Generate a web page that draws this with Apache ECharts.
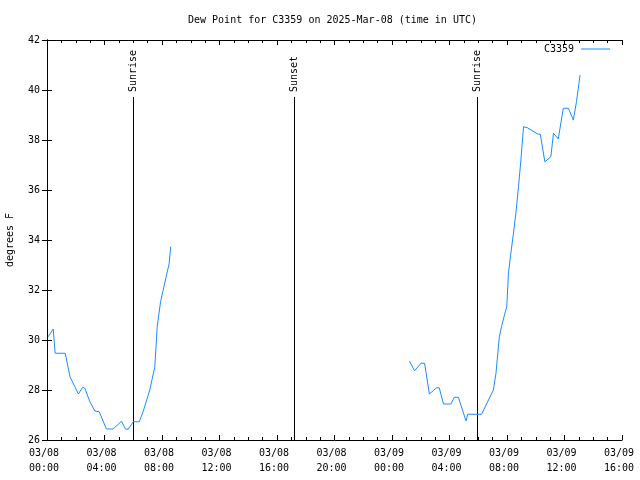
<!DOCTYPE html>
<html>
<head>
<meta charset="utf-8">
<script src="https://cdn.jsdelivr.net/npm/echarts@6/dist/echarts.min.js"></script>
<style>html,body{margin:0;padding:0;background:#fff}#c{width:640px;height:480px}</style>
</head>
<body>
<div id="c"></div>
<script>
// Data (times in UTC)
var seg1Times = ["03/08 00:05","03/08 00:26","03/08 00:34","03/08 01:16","03/08 01:36","03/08 02:11","03/08 02:29","03/08 02:38","03/08 02:59","03/08 03:20","03/08 03:38","03/08 04:08","03/08 04:36","03/08 05:11","03/08 05:28","03/08 05:39","03/08 06:00","03/08 06:25","03/08 06:41","03/08 07:09","03/08 07:30","03/08 07:40","03/08 07:54","03/08 08:08","03/08 08:19","03/08 08:30","03/08 08:36"];
var seg1Values = [30.13,30.44,29.47,29.47,28.53,27.84,28.11,28.07,27.53,27.16,27.13,26.44,26.44,26.75,26.43,26.44,26.73,26.73,27.13,28.0,28.93,30.53,31.53,32.13,32.6,33.07,33.73];
var seg2Times = ["03/09 01:13","03/09 01:34","03/09 02:01","03/09 02:16","03/09 02:36","03/09 03:06","03/09 03:17","03/09 03:35","03/09 04:06","03/09 04:20","03/09 04:37","03/09 05:09","03/09 05:16","03/09 06:14","03/09 07:03","03/09 07:14","03/09 07:28","03/09 07:37","03/09 07:53","03/09 07:59","03/09 08:06","03/09 08:16","03/09 08:27","03/09 08:37","03/09 08:48","03/09 08:58","03/09 09:09","03/09 09:25","03/09 10:08","03/09 10:19","03/09 10:38","03/09 11:03","03/09 11:14","03/09 11:34","03/09 11:55","03/09 12:16","03/09 12:37","03/09 12:50","03/09 13:05"];
var seg2Values = [29.16,28.77,29.07,29.07,27.84,28.09,28.09,27.44,27.44,27.71,27.71,26.76,27.03,27.03,28.0,28.67,30.13,30.53,31.13,31.33,32.67,33.47,34.27,35.07,36.13,37.2,38.53,38.49,38.24,38.23,37.13,37.33,38.27,38.04,39.27,39.27,38.8,39.53,40.6];
var sunTimes = ["03/08 05:59","03/08 17:11","03/09 05:55"];
var sunLabels = ["Sunrise","Sunset","Sunrise"];
var xTickDays = ["03/08","03/08","03/08","03/08","03/08","03/08","03/09","03/09","03/09","03/09","03/09"];
var xTickTimes = ["00:00","04:00","08:00","12:00","16:00","20:00","00:00","04:00","08:00","12:00","16:00"];

function hrs(s){ // hours since 03/08 00:00
  var d = parseInt(s.substr(3,2),10), h = parseInt(s.substr(6,2),10), m = parseInt(s.substr(9,2),10);
  return (d-8)*24 + h + m/60;
}
function pairs(t,v){ return t.map(function(x,i){ return [hrs(x), v[i]]; }); }

var FONT = '"DejaVu Sans Mono", monospace';
var BLUE = '#1a8cff';
var SUN_TOP = 39.72;

var chart = echarts.init(document.getElementById('c'), null, {renderer:'canvas'});
var axisCommon = {
  axisLine:{show:true, lineStyle:{color:'#000', width:1}},
  axisTick:{show:true, inside:true, length:5, lineStyle:{color:'#000'}},
  splitLine:{show:false}
};
chart.setOption({
  animation:false,
  backgroundColor:'#fff',
  title:{text:'Dew Point for C3359 on 2025-Mar-08 (time in UTC)', left:183, top:10,
    textStyle:{fontFamily:FONT, fontSize:10, fontWeight:'normal', color:'#000'}},
  legend:{right:30, top:44, padding:0, align:'right', itemWidth:29, itemHeight:1, itemGap:5,
    icon:'rect', data:['C3359'],
    textStyle:{fontFamily:FONT, fontSize:10, color:'#000', padding:[0,2,0,0]}},
  grid:{left:47, right:18, top:40, bottom:40, outerBoundsMode:'none', containLabel:false},
  xAxis:[
    Object.assign({type:'value', min:0, max:40, interval:4, position:'bottom',
      minorTick:{show:true, splitNumber:4, length:3, lineStyle:{color:'#000'}},
      axisLabel:{fontFamily:FONT, fontSize:10, color:'#000', margin:6, lineHeight:15,
        formatter:function(v){ var i=Math.round(v/4); return xTickDays[i]+' \n'+xTickTimes[i]+' '; }}}, axisCommon),
    Object.assign({type:'value', min:0, max:40, interval:4, position:'top',
      minorTick:{show:true, splitNumber:4, length:3, lineStyle:{color:'#000'}},
      axisLabel:{show:false}}, axisCommon)
  ],
  yAxis:[
    Object.assign({type:'value', min:26, max:42, interval:2, position:'left',
      name:'degrees F', nameLocation:'middle', nameRotate:90, nameGap:32,
      nameTextStyle:{fontFamily:FONT, fontSize:10, color:'#000'},
      axisLabel:{fontFamily:FONT, fontSize:10, color:'#000', margin:7}}, axisCommon),
    Object.assign({type:'value', min:26, max:42, interval:2, position:'right',
      axisLabel:{show:false}}, axisCommon)
  ],
  series:[
    {name:'C3359', type:'line', data:pairs(seg1Times, seg1Values), showSymbol:false, symbol:'none',
      lineStyle:{color:BLUE, width:1}, itemStyle:{color:BLUE}},
    {name:'C3359', type:'line', data:pairs(seg2Times, seg2Values), showSymbol:false, symbol:'none',
      lineStyle:{color:BLUE, width:1}, itemStyle:{color:BLUE}},
    {type:'custom', clip:false, silent:true,
      data:sunTimes.map(function(t,i){ return [hrs(t), i]; }),
      encode:{x:0},
      renderItem:function(params, api){
        var t = api.value(0), i = api.value(1);
        var p0 = api.coord([t, 26]), p1 = api.coord([t, SUN_TOP]);
        var x = Math.round(p0[0]) + 0.5;
        return {type:'group', children:[
          {type:'line', shape:{x1:x, y1:p0[1], x2:x, y2:p1[1]}, style:{stroke:'#000', lineWidth:1}},
          {type:'text', x:x, y:p1[1]-5, rotation:Math.PI/2,
            style:{text:sunLabels[i], fontFamily:FONT, fontSize:10, fill:'#000', align:'left', verticalAlign:'middle'}}
        ]};
      }}
  ]
});
</script>
</body>
</html>
